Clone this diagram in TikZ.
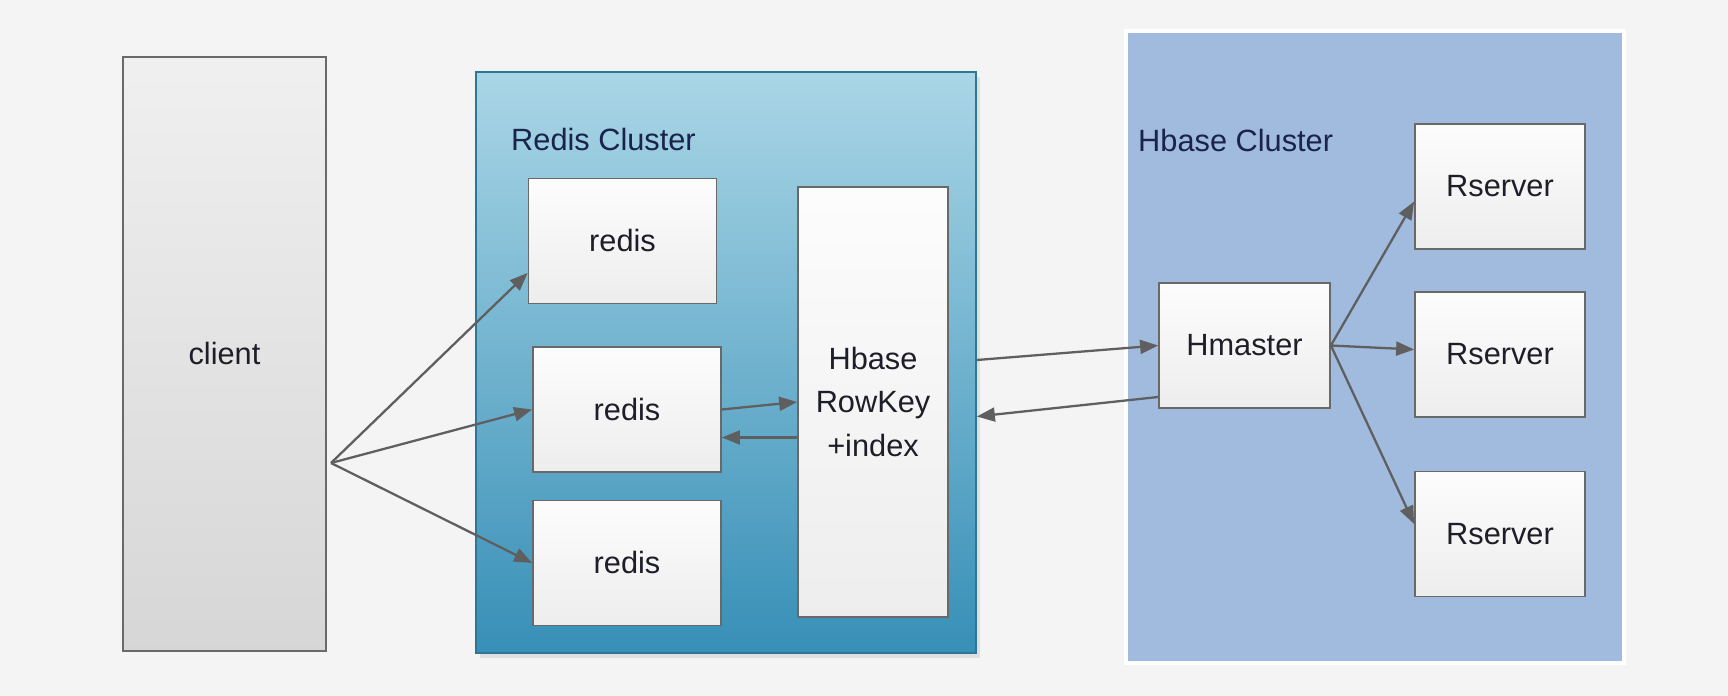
\documentclass[tikz,border=0pt]{standalone}
\usepackage{fontspec}
\setmainfont{Liberation Sans}
\usetikzlibrary{arrows.meta,positioning,shadows,calc}
\definecolor{paper}{RGB}{244,244,244}
\definecolor{wire}{RGB}{95,95,95}
\definecolor{rim}{RGB}{105,105,105}
\definecolor{sky}{RGB}{170,214,230}
\definecolor{lagoon}{RGB}{55,143,183}
\definecolor{lagoonrim}{RGB}{45,118,152}
\definecolor{steel}{RGB}{160,187,222}
\definecolor{titleink}{RGB}{25,35,75}
\definecolor{boxink}{RGB}{30,30,40}
\newcommand\diafont{\fontsize{17.5}{25}\selectfont}
\tikzset{
  >={Triangle[length=3.6mm,width=2.8mm]},
  flow/.style={->,draw=wire,line width=1.3pt},
  box/.style={draw=rim,line width=1pt,top color=white!99!black,bottom color=white!93!black,
    minimum width=3.4cm,minimum height=2.5cm,inner sep=0pt,text=boxink,font=\diafont,align=center},
  cluster/.style={anchor=west,text=titleink,font=\diafont},
}
\begin{document}
\begin{tikzpicture}
  \path[use as bounding box,fill=paper] (0,0) rectangle (34.56,13.92);
  % client
  \node[box,minimum width=4.06cm,minimum height=11.88cm,top color=white!94!black,bottom color=white!84!black] (client) at (4.49,6.84) {client};
  \coordinate (fan) at (6.62,4.66);
  % redis cluster
  \node[draw=lagoonrim,line width=1pt,top color=sky,bottom color=lagoon,minimum width=10cm,minimum height=11.62cm,
    drop shadow={opacity=0.18,shadow xshift=0.08cm,shadow yshift=-0.1cm}] (rc) at (14.52,6.67) {};
  \node[cluster] (rcl) at (10.1,11.12) {Redis Cluster};
  \foreach \n/\x/\y in {r1/12.45/9.10,r2/12.54/5.73,r3/12.54/2.66}
    \node[box,minimum width=3.76cm] (\n) at (\x,\y) {redis};
  \node[box,minimum width=3cm,minimum height=8.6cm] (hk) at (17.46,5.88) {Hbase\\RowKey\\+index};
  % hbase cluster
  \node[fill=steel,draw=white,line width=2.5pt,minimum width=9.96cm,minimum height=12.64cm] (hc) at (27.50,6.98) {};
  \node[cluster] (hcl) at (22.64,11.10) {Hbase Cluster};
  \node[box,minimum width=3.42cm] (hm) at (24.89,7.01) {Hmaster};
  \foreach \i/\y in {1/10.19,2/6.83,3/3.24}
    \node[box] (rs\i) at (30.0,\y) {Rserver};
  % connectors
  \draw[flow] (fan) -- ([yshift=-6.4mm]r1.west);
  \draw[flow] (fan) -- (r2.west);
  \draw[flow] (fan) -- (r3.west);
  \draw[flow] (r2.east) -- (hk.west);
  \draw[flow] ([yshift=-7.1mm]hk.west) -- ([yshift=-7.1mm]hk.west -| r2.east);
  \draw[flow] ([yshift=0.5mm]rc.east) -- (hm.west);
  \draw[flow] ([yshift=-10.3mm]hm.west) -- ([yshift=-10.8mm]rc.east);
  \draw[flow] (hm.east) -- ([yshift=-3mm]rs1.west);
  \draw[flow] (hm.east) -- ([yshift=1mm]rs2.west);
  \draw[flow] (hm.east) -- ([yshift=2mm]rs3.west);
\end{tikzpicture}
\end{document}
